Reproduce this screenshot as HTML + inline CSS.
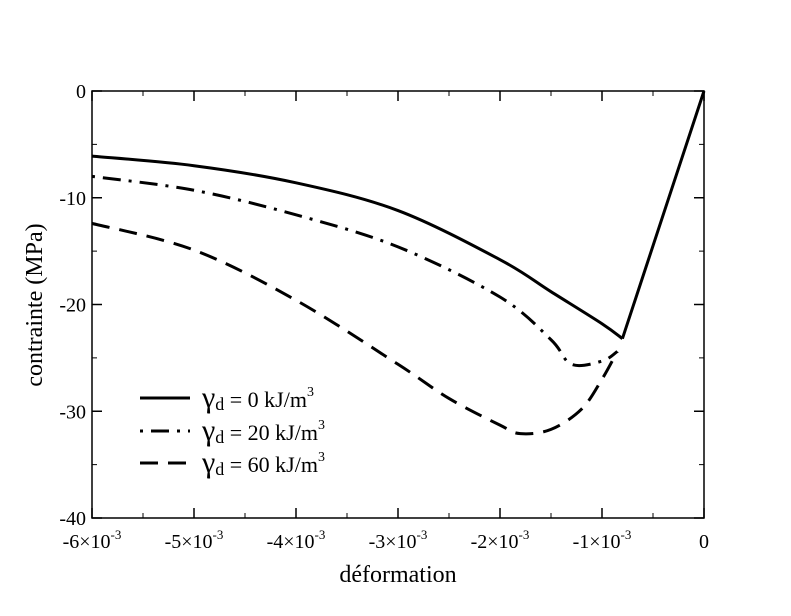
<!DOCTYPE html>
<html><head><meta charset="utf-8"><style>
body{margin:0;background:#fff}
svg text{font-family:"Liberation Serif",serif;fill:#000}
</style></head><body>
<svg width="791" height="611">
<g id="axes"></g>
<g id="series"></g>
<g id="legend">
 <line x1="140" y1="398" x2="190" y2="398" stroke="#000" stroke-width="3"/>
 <text x="202" y="407" font-size="30">γ<tspan font-size="18" dy="3">d</tspan><tspan font-size="22" dy="-3"> = 0 kJ/m</tspan><tspan font-size="14" dy="-11">3</tspan></text>
 <line x1="140" y1="431" x2="190" y2="431" stroke="#000" stroke-width="3" stroke-dasharray="3,8,18,8"/>
 <text x="202" y="440" font-size="30">γ<tspan font-size="18" dy="3">d</tspan><tspan font-size="22" dy="-3"> = 20 kJ/m</tspan><tspan font-size="14" dy="-11">3</tspan></text>
 <line x1="140" y1="463" x2="190" y2="463" stroke="#000" stroke-width="3" stroke-dasharray="18,10"/>
 <text x="202" y="472" font-size="30">γ<tspan font-size="18" dy="3">d</tspan><tspan font-size="22" dy="-3"> = 60 kJ/m</tspan><tspan font-size="14" dy="-11">3</tspan></text>
</g>
</svg>
<script>
const xTicks=[-6,-5,-4,-3,-2,-1,0];
const yTicks=[0,-10,-20,-30,-40];
const x0=[-6,-5,-4,-3,-2,-1.5,-1,-0.8];
const y0=[-6.1,-7.0,-8.6,-11.2,-15.8,-18.8,-21.8,-23.2];
const x0b=[-0.8,0];
const y0b=[-23.2,0];
const x1=[-6,-5,-4,-3,-2,-1.5,-1.3,-1.0,-0.85];
const y1=[-8.0,-9.3,-11.6,-14.6,-19.3,-23.3,-25.6,-25.3,-24.4];
const x2=[-6,-5,-4,-3,-2.5,-2,-1.8,-1.5,-1.2,-1,-0.85];
const y2=[-12.4,-14.9,-19.6,-25.6,-28.8,-31.3,-32.1,-31.7,-29.8,-27.0,-24.4];
const NS="http://www.w3.org/2000/svg";
const L=92,R=704,T=91,B=518;
const sx=v=>L+(v+6)/6*(R-L);
const sy=v=>T+(-v)/40*(B-T);
function mk(t,a,p){const e=document.createElementNS(NS,t);for(const k in a)e.setAttribute(k,a[k]);p.appendChild(e);return e;}
function smooth(xs,ys){
 const P=xs.map((v,i)=>[sx(v),sy(ys[i])]);
 let d='M'+P[0][0]+','+P[0][1];
 for(let i=0;i<P.length-1;i++){
  const p0=P[Math.max(0,i-1)],p1=P[i],p2=P[i+1],p3=P[Math.min(P.length-1,i+2)];
  const c1=[p1[0]+(p2[0]-p0[0])/6,p1[1]+(p2[1]-p0[1])/6];
  const c2=[p2[0]-(p3[0]-p1[0])/6,p2[1]-(p3[1]-p1[1])/6];
  d+=' C'+c1+' '+c2+' '+p2;
 }
 return d;
}
const ax=document.getElementById('axes');
const frame=mk('rect',{x:L,y:T,width:R-L,height:B-T,fill:'none',stroke:'#000','stroke-width':1.5},ax);


xTicks.forEach((v,i)=>{
 const X=sx(v);
 const t=mk('line',{x1:X,y1:B,x2:X,y2:B-10,stroke:'#000','stroke-width':1.5},ax);
 
 
 mk('line',{x1:X,y1:T,x2:X,y2:T+10,stroke:'#000','stroke-width':1.5},ax);
 if(i<xTicks.length-1){const m=sx(v+0.5);mk('line',{x1:m,y1:B,x2:m,y2:B-5,stroke:'#000'},ax);mk('line',{x1:m,y1:T,x2:m,y2:T+5,stroke:'#000'},ax);}
 const tx=mk('text',{x:X,y:B+30,'font-size':20,'text-anchor':'middle'},ax);
 
 
 if(v===0)tx.textContent='0';
 else{tx.textContent=v+'×10';const s=mk('tspan',{'font-size':13,dy:-9},tx);s.textContent='-3';}
});
yTicks.forEach((v,i)=>{
 const Y=sy(v);
 const t=mk('line',{x1:L,y1:Y,x2:L+10,y2:Y,stroke:'#000','stroke-width':1.5},ax);
 
 
 mk('line',{x1:R,y1:Y,x2:R-10,y2:Y,stroke:'#000','stroke-width':1.5},ax);
 if(i<yTicks.length-1){const m=sy(v-5);mk('line',{x1:L,y1:m,x2:L+5,y2:m,stroke:'#000'},ax);mk('line',{x1:R,y1:m,x2:R-5,y2:m,stroke:'#000'},ax);}
 const tx=mk('text',{x:L-6,y:Y+7,'font-size':20,'text-anchor':'end'},ax);
 
 
 tx.textContent=String(v);
});
const xt=mk('text',{x:398,y:582,'font-size':24,'text-anchor':'middle'},ax);


xt.textContent='déformation';
const yt=mk('text',{x:0,y:0,'font-size':24,'text-anchor':'middle',transform:'translate(42,305) rotate(-90)'},ax);


yt.textContent='contrainte (MPa)';
const sg=document.getElementById('series');
[[x0,y0,'none','series-0kJ'],[x0b,y0b,'none','series-0kJ-elastic'],[x1,y1,'3,8,18,8','series-20kJ'],[x2,y2,'18,10','series-60kJ']].forEach(([xs,ys,d,n])=>{
 const p=mk('path',{d:smooth(xs,ys),fill:'none',stroke:'#000','stroke-width':3,'stroke-dasharray':d,'stroke-linejoin':'round'},sg);
 
 
});
</script>
</body></html>
